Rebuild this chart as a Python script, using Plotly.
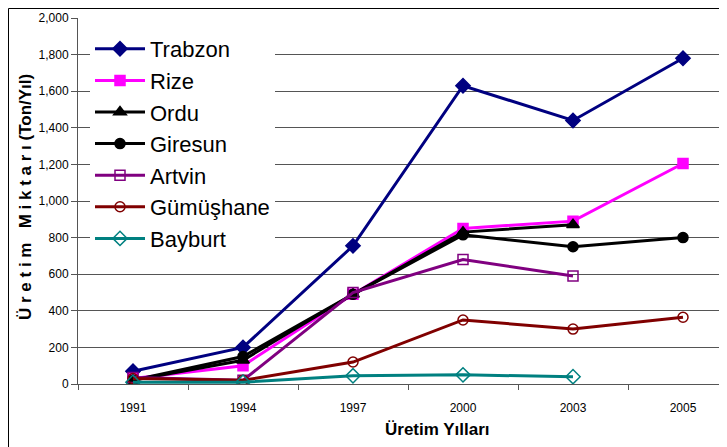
import plotly.graph_objects as go

years = ["1991", "1994", "1997", "2000", "2003", "2005"]
trabzon = [70, 200, 755, 1630, 1440, 1780]
rize = [30, 100, 490, 850, 890, 1205]
ordu = [20, 130, 490, 830, 870, None]
giresun = [20, 150, 490, 815, 750, 800]
artvin = [35, 20, 500, 680, 590, None]
gumushane = [30, 20, 120, 350, 300, 365]
bayburt = [10, 10, 45, 50, 40, None]

y_ticks = [0, 200, 400, 600, 800, 1000, 1200, 1400, 1600, 1800, 2000]

series = [
    ("Trabzon", trabzon, "#000080", "diamond", 11),
    ("Rize", rize, "#FF00FF", "square", 10),
    ("Ordu", ordu, "#000000", "triangle-up", 11),
    ("Giresun", giresun, "#000000", "circle", 10),
    ("Artvin", artvin, "#800080", "square-open", 10),
    ("Gümüşhane", gumushane, "#800000", "circle-open", 10),
    ("Bayburt", bayburt, "#008080", "diamond-open", 11),
]

fig = go.Figure()
for name, vals, color, sym, size in series:
    fig.add_trace(go.Scatter(
        x=years, y=vals, name=name, mode="lines+markers",
        line=dict(color=color, width=3),
        marker=dict(symbol=sym, size=size, color=color,
                    line=dict(color=color, width=1.5)),
        legendgroup=name,
    ))

# page body has an 8px default margin; the figure is laid out to compensate
OFF = 8
W, H = 727 - OFF, 447 - OFF
L = 78 - OFF
T = 18 - OFF
B = 447 - 384
pw = W - L
ph = H - T - B


def px_x(page_x):
    return (page_x - OFF - L) / pw


def px_y(page_y):
    return (384 - page_y) / ph


fig.update_layout(
    width=W, height=H,
    margin=dict(l=L, r=0, t=T, b=B),
    paper_bgcolor="white", plot_bgcolor="white",
    font=dict(family="Liberation Sans, Arial", color="black"),
    showlegend=True,
    legend=dict(
        x=px_x(90), y=px_y(28), xanchor="left", yanchor="top",
        bgcolor="white", borderwidth=0,
        font=dict(size=22, family="Liberation Sans, Arial", color="black"),
        tracegroupgap=0,
        itemwidth=50,
    ),
    xaxis=dict(
        type="category", range=[-0.5, 5.4],
        tickson="boundaries", ticks="outside", ticklen=5,
        tickcolor="#555", showline=True, linecolor="#555", linewidth=1,
        showgrid=False, tickfont=dict(size=12), ticklabelstandoff=13,
    ),
    yaxis=dict(
        range=[0, 2000], tickvals=y_ticks, tickformat=",d",
        ticks="outside", ticklen=6, tickcolor="#555",
        showline=True, linecolor="#555", linewidth=1,
        showgrid=True, gridcolor="#555", gridwidth=1,
        zeroline=False, tickfont=dict(size=12),
    ),
)

fig.add_annotation(
    text="<b>Üretim Yılları</b>", xref="paper", yref="paper",
    x=px_x(437), y=px_y(430), xanchor="center", yanchor="middle",
    showarrow=False, font=dict(size=17, family="Liberation Sans, Arial", color="black"),
)
fig.add_annotation(
    text="<b>Ü r e t i m   M i k t a r ı</b><b> (Ton/Yıl)</b>",
    xref="paper", yref="paper",
    x=px_x(25), y=px_y(197), xanchor="center", yanchor="middle",
    textangle=-90, showarrow=False,
    font=dict(size=17, family="Liberation Sans, Arial", color="black"),
)

fig.add_shape(
    type="rect", xref="paper", yref="paper",
    x0=px_x(8.5), x1=px_x(760),
    y0=px_y(470), y1=px_y(8.5),
    line=dict(color="black", width=1), fillcolor="rgba(0,0,0,0)", layer="above",
)

fig.write_html("out.html")
